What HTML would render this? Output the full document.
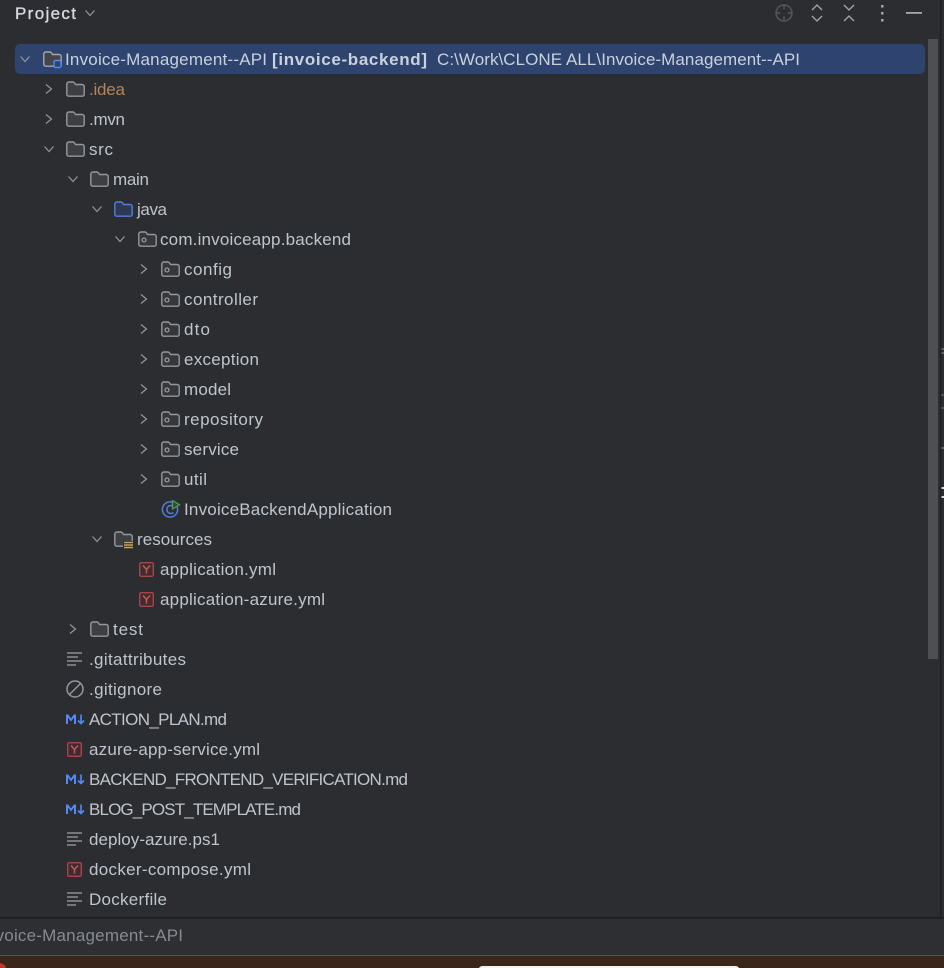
<!DOCTYPE html>
<html>
<head>
<meta charset="utf-8">
<style>
html,body{margin:0;padding:0;background:#2b2d30;width:944px;height:968px;overflow:hidden}
svg{display:block}
text{font-family:"Liberation Sans",sans-serif;font-size:17px;fill:#bfc5cd}
</style>
</head>
<body>
<svg width="944" height="968" viewBox="0 0 944 968" xmlns="http://www.w3.org/2000/svg">
<defs>
<path id="cr" d="M-3-4.500 L2.500 0 L-3 4.500" fill="none" stroke="#94979d" stroke-width="1.200"/>
<path id="cd" d="M-4.500-2.500 L0 2.500 L4.500-2.500" fill="none" stroke="#94979d" stroke-width="1.200"/>
<path id="fp" d="M.8-5 a2 2 0 0 1 2-2 h4.200 a1.500 1.500 0 0 1 1.200.6 l1.400 1.900 h6.600 a2 2 0 0 1 2 2 v7.700 a2 2 0 0 1-2 2 h-13.400 a2 2 0 0 1-2-2z"/>
<g id="f"><use href="#fp" fill="#3d3f43" stroke="#94979d" stroke-width="1.400"/></g>
<g id="p"><use href="#fp" fill="#35373b" stroke="#94979d" stroke-width="1.400"/><circle cx="6" cy="1" r="2" fill="none" stroke="#a8abb1" stroke-width="1.100"/></g>
<g id="y">
<rect x=".7" y="-6.300" width="13.600" height="13.600" rx="1.500" fill="#3f2c2f" stroke="#a8454b" stroke-width="1.400"/>
<path d="M4-3.500 L7.500 .5 L11-3.500 M7.500 .5 V4.500" fill="none" stroke="#c9555b" stroke-width="1.500"/>
</g>
<g id="l" stroke="#a0a3a9" stroke-width="1.200">
<path d="M0-6H15 M0-2H11 M0 2H15 M0 6H9"/>
</g>
<g id="m">
<path d="M1 5V-4.500H3.200L6-.5L8.800-4.500H11V5H9V-1.500L6 2.500L3-1.500V5Z" fill="#548af7"/>
<path d="M16-4.500V4 M13 1.500L16 4.500L19 1.500" fill="none" stroke="#548af7" stroke-width="1.600"/>
</g>
</defs>

<rect width="944" height="968" fill="#2b2d30"/>

<!-- header -->
<text x="15" y="19" textLength="61" lengthAdjust="spacing" style="fill:#d7dae0;stroke:#d7dae0;stroke-width:.35">Project</text>
<use href="#cd" x="90" y="13"/>
<g fill="none" stroke="#55575c" stroke-width="1.500">
<circle cx="784" cy="13" r="8"/>
<path d="M784 5v4.500 M784 16.500v4.500 M776 13h4.500 M787.500 13h4.500"/>
</g>
<g fill="none" stroke="#a4a7ad" stroke-width="1.300">
<path d="M812 10l5-5 5 5 M812 16l5 5 5-5"/>
<path d="M844 5l5 5 5-5 M844 21l5-5 5 5"/>
</g>
<g fill="#a4a7ad"><rect x="881" y="5" width="2.500" height="2.500"/><rect x="881" y="12" width="2.500" height="2.500"/><rect x="881" y="19" width="2.500" height="2.500"/></g>
<rect x="906" y="12" width="16" height="1.800" fill="#a4a7ad"/>

<!-- selected row -->
<rect x="15" y="44" width="910" height="30" rx="5" fill="#2e436e"/>
<use href="#cd" x="25" y="59"/>
<g transform="translate(43,59)"><use href="#fp" fill="#43454a" stroke="#a3a6ac" stroke-width="1.400"/></g>
<rect x="54" y="60.500" width="7" height="7" rx="1.500" fill="#2e436e" stroke="#548af7" stroke-width="1.400"/>
<text x="65" y="65" textLength="202" style="fill:#c9d1dc">Invoice-Management--API</text>
<text x="272" y="65" textLength="155" style="font-weight:bold;fill:#c9d1dc">[invoice-backend]</text>
<text x="437" y="65" textLength="363" style="fill:#c9d1dc">C:\Work\CLONE ALL\Invoice-Management--API</text>

<!-- tree -->
<use href="#cr" x="49" y="89"/><use href="#f" x="66" y="89"/><text x="89" y="95" textLength="36" style="fill:#b58455">.idea</text>
<use href="#cr" x="49" y="119"/><use href="#f" x="66" y="119"/><text x="89" y="125" textLength="36">.mvn</text>
<use href="#cd" x="49" y="149"/><use href="#f" x="66" y="149"/><text x="89" y="155" textLength="24">src</text>
<use href="#cd" x="73" y="179"/><use href="#f" x="90" y="179"/><text x="113" y="185" textLength="36">main</text>
<use href="#cd" x="97" y="209"/>
<g transform="translate(114,209)"><use href="#fp" fill="#2f3a52" stroke="#4f7fe0" stroke-width="1.400"/></g>
<text x="137" y="215" textLength="30">java</text>
<use href="#cd" x="120" y="239"/><use href="#p" x="138" y="239"/><text x="160" y="245" textLength="191">com.invoiceapp.backend</text>

<use href="#cr" x="144" y="269"/><use href="#p" x="161" y="269"/><text x="184" y="275" textLength="48">config</text>
<use href="#cr" x="144" y="299"/><use href="#p" x="161" y="299"/><text x="184" y="305" textLength="74">controller</text>
<use href="#cr" x="144" y="329"/><use href="#p" x="161" y="329"/><text x="184" y="335" textLength="26">dto</text>
<use href="#cr" x="144" y="359"/><use href="#p" x="161" y="359"/><text x="184" y="365" textLength="75">exception</text>
<use href="#cr" x="144" y="389"/><use href="#p" x="161" y="389"/><text x="184" y="395" textLength="47">model</text>
<use href="#cr" x="144" y="419"/><use href="#p" x="161" y="419"/><text x="184" y="425" textLength="79">repository</text>
<use href="#cr" x="144" y="449"/><use href="#p" x="161" y="449"/><text x="184" y="455" textLength="55">service</text>
<use href="#cr" x="144" y="479"/><use href="#p" x="161" y="479"/><text x="184" y="485" textLength="23">util</text>

<circle cx="170" cy="509.500" r="7.600" fill="none" stroke="#4f7fe0" stroke-width="1.500"/>
<path d="M173.500 506.500a4 4 0 1 0 0 6" fill="none" stroke="#4f7fe0" stroke-width="1.500"/>
<path d="M172.500 500.500v8.500l7-4.200z" fill="#2d4a36" stroke="#57965c" stroke-width="1.300"/>
<text x="184" y="515" textLength="208">InvoiceBackendApplication</text>

<use href="#cd" x="97" y="539"/><use href="#f" x="114" y="539"/>
<rect x="123" y="541" width="11" height="8" fill="#2b2d30"/>
<path d="M124 542.500h9 M124 545h9 M124 547.500h9" stroke="#c9a452" stroke-width="1.500"/>
<text x="137" y="545" textLength="75">resources</text>

<use href="#y" x="139" y="569"/><text x="160" y="575" textLength="116">application.yml</text>
<use href="#y" x="139" y="599"/><text x="160" y="605" textLength="165">application-azure.yml</text>

<use href="#cr" x="73" y="629"/><use href="#f" x="90" y="629"/><text x="113" y="635" textLength="30">test</text>

<use href="#l" x="67" y="659"/><text x="89" y="665" textLength="97">.gitattributes</text>
<circle cx="75" cy="689" r="8" fill="none" stroke="#94979d" stroke-width="1.500"/>
<path d="M69.500 694.500L80.500 683.500" stroke="#94979d" stroke-width="1.500"/>
<text x="89" y="695" textLength="73">.gitignore</text>
<use href="#m" x="65" y="719"/><text x="89" y="725" textLength="138">ACTION_PLAN.md</text>
<use href="#y" x="67" y="749"/><text x="89" y="755" textLength="171">azure-app-service.yml</text>
<use href="#m" x="65" y="779"/><text x="89" y="785" textLength="319">BACKEND_FRONTEND_VERIFICATION.md</text>
<use href="#m" x="65" y="809"/><text x="89" y="815" textLength="212">BLOG_POST_TEMPLATE.md</text>
<use href="#l" x="67" y="839"/><text x="89" y="845" textLength="131">deploy-azure.ps1</text>
<use href="#y" x="67" y="869"/><text x="89" y="875" textLength="162">docker-compose.yml</text>
<use href="#l" x="67" y="899"/><text x="89" y="905" textLength="78">Dockerfile</text>

<!-- scrollbar & right edge -->
<rect x="928" y="39" width="10" height="620" fill="#4d4f52"/>
<rect x="940" y="0" width="1.500" height="918" fill="#1e1f22"/>
<g fill="#66645c"><rect x="941.500" y="348" width="2.500" height="2"/><rect x="941.500" y="352" width="2.500" height="2"/><rect x="941.500" y="394" width="2" height="2"/><rect x="941.500" y="407" width="2" height="2"/><rect x="941.500" y="447" width="2.500" height="2"/></g>
<g fill="#d8d8d8"><rect x="941.500" y="487" width="2.500" height="2"/><rect x="941.500" y="496" width="2.500" height="2"/></g>

<!-- footer -->
<rect x="0" y="917" width="944" height="1.800" fill="#1e1f22"/>
<rect x="0" y="919" width="944" height="36" fill="#2d2f33"/>
<text x="-19" y="941" textLength="202" style="fill:#868a91">Invoice-Management--API</text>
<rect x="0" y="955" width="944" height="13" fill="#38271a"/>
<rect x="0" y="955" width="944" height="1" fill="#55534f"/>
<path d="M479 968q1-2 4-2h252q3 0 4 2z" fill="#f2f2f0"/>
<path d="M0 963q5 1 6 5H0z" fill="#c43527"/>
</svg>
</body>
</html>
